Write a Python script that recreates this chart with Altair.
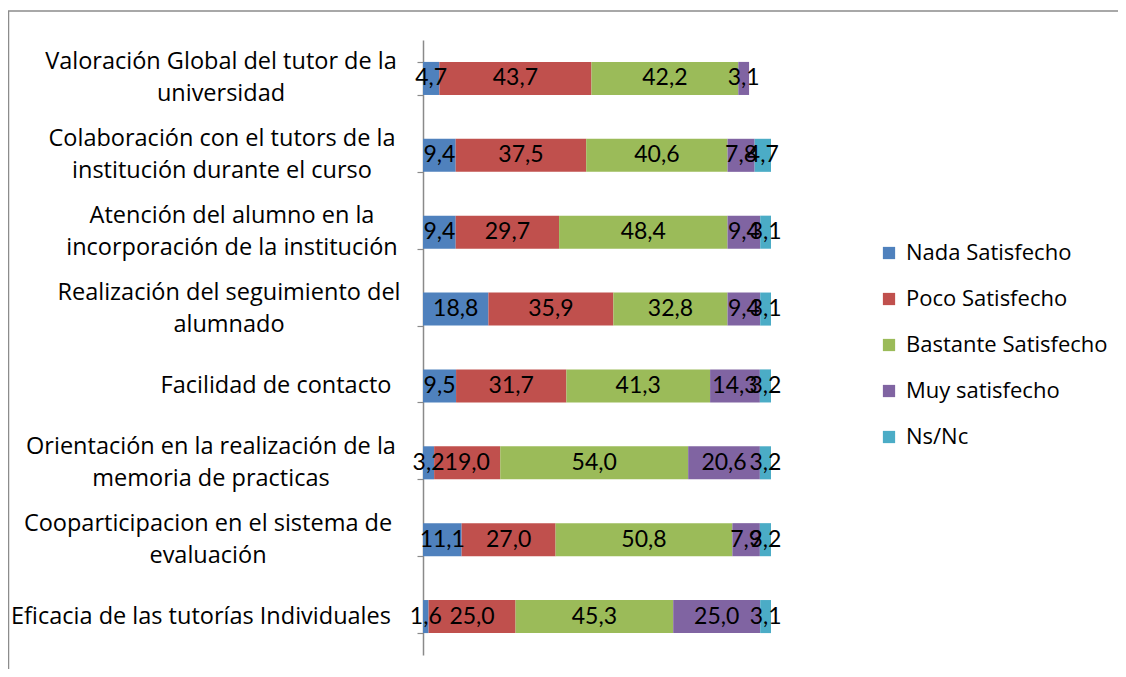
import altair as alt
import pandas as pd

categories = [
    "Valoración Global del tutor de la\nuniversidad",
    "Colaboración con el tutors de la\ninstitución durante el curso",
    "Atención del alumno  en la\nincorporación de la institución",
    "Realización del seguimiento del\nalumnado",
    "Facilidad de contacto",
    "Orientación en la realización de la\nmemoria de practicas",
    "Cooparticipacion en el sistema de\nevaluación",
    "Eficacia de las tutorías Individuales",
]
series = ["Nada Satisfecho", "Poco Satisfecho", "Bastante Satisfecho",
          "Muy satisfecho", "Ns/Nc"]
nada = [4.7, 9.4, 9.4, 18.8, 9.5, 3.2, 11.1, 1.6]
poco = [43.7, 37.5, 29.7, 35.9, 31.7, 19.0, 27.0, 25.0]
bastante = [42.2, 40.6, 48.4, 32.8, 41.3, 54.0, 50.8, 45.3]
muy = [3.1, 7.8, 9.4, 9.4, 14.3, 20.6, 7.9, 25.0]
nsnc = [None, 4.7, 3.1, 3.1, 3.2, 3.2, 3.2, 3.1]

colors = ["#4F81BD", "#C0504D", "#9BBB59", "#8064A2", "#4BACC6"]
# horizontal centre of each wrapped category label, in pixels left of the axis
label_center_offset = [-202, -201, -191, -194, -147, -212, -215, -222]

rows = []
for si, vals in enumerate([nada, poco, bastante, muy, nsnc]):
    for ci, v in enumerate(vals):
        if v is None:
            continue
        rows.append({"cat": categories[ci], "serie": series[si], "idx": si,
                     "value": v, "lab": f"{v:.1f}".replace(".", ",")})
df = pd.DataFrame(rows)
lab_df = pd.DataFrame({"cat": categories, "lx": label_center_offset})

yaxis = alt.Axis(labels=False, title=None, domainColor="#8a8a8a", domainWidth=1.5,
                 tickColor="#8a8a8a", tickBand="extent", tickSize=6, tickWidth=1.2,
                 grid=False)
yscale = alt.Scale(paddingInner=0.57, paddingOuter=0.285)
Y = alt.Y("cat:N", sort=categories, scale=yscale, axis=yaxis)
xscale = alt.Scale(domain=[0, 100], nice=False, zero=True)

frame = alt.Chart(pd.DataFrame({"a": [0]})).mark_rect(
    fillOpacity=0, stroke="#8c8c8c", strokeWidth=1.5
).encode(x=alt.value(-414.5), x2=alt.value(900), y=alt.value(-29), y2=alt.value(700))

bars = alt.Chart(df).mark_bar(strokeWidth=0).encode(
    y=Y,
    x=alt.X("value:Q", stack="zero", scale=xscale, axis=None),
    color=alt.Color("serie:N", sort=series,
                    scale=alt.Scale(domain=series, range=colors),
                    legend=alt.Legend(title=None, orient="none", legendX=455, legendY=202,
                                      symbolType="square", symbolSize=150,
                                      symbolStrokeWidth=0, labelFont="Open Sans",
                                      labelFontSize=22, labelColor="black",
                                      rowPadding=24, labelOffset=6, labelLimit=300)),
    order=alt.Order("idx:Q"),
)

values = alt.Chart(df).transform_stack(
    stack="value", as_=["v0", "v1"], groupby=["cat"],
    sort=[alt.SortField("idx", order="ascending")]
).transform_calculate(mid="(datum.v0 + datum.v1) / 2").mark_text(
    font="Lato", fontSize=23, color="black", align="center", baseline="middle"
).encode(
    y=Y,
    x=alt.X("mid:Q", scale=xscale, axis=None),
    text="lab:N",
)

label_base = alt.Chart(lab_df).encode(
    y=Y,
    x=alt.X("lx:Q", scale=None, axis=None),
    text="cat:N",
)
label_style = dict(font="Open Sans", fontSize=23.5, color="black", align="center",
                   baseline="middle", lineBreak="\n", lineHeight=32)
two_line = label_base.transform_filter("indexof(datum.cat, '\\n') >= 0").mark_text(
    dy=-16, **label_style)
one_line = label_base.transform_filter("indexof(datum.cat, '\\n') < 0").mark_text(
    **label_style)

chart = alt.layer(frame, bars, values, two_line, one_line).properties(
    width=348, height=615, autosize="none",
    padding={"left": 415, "top": 32, "right": 347, "bottom": 14},
).configure_view(strokeWidth=0)

chart.save("out.html", embed_options={"renderer": "svg", "actions": False})
